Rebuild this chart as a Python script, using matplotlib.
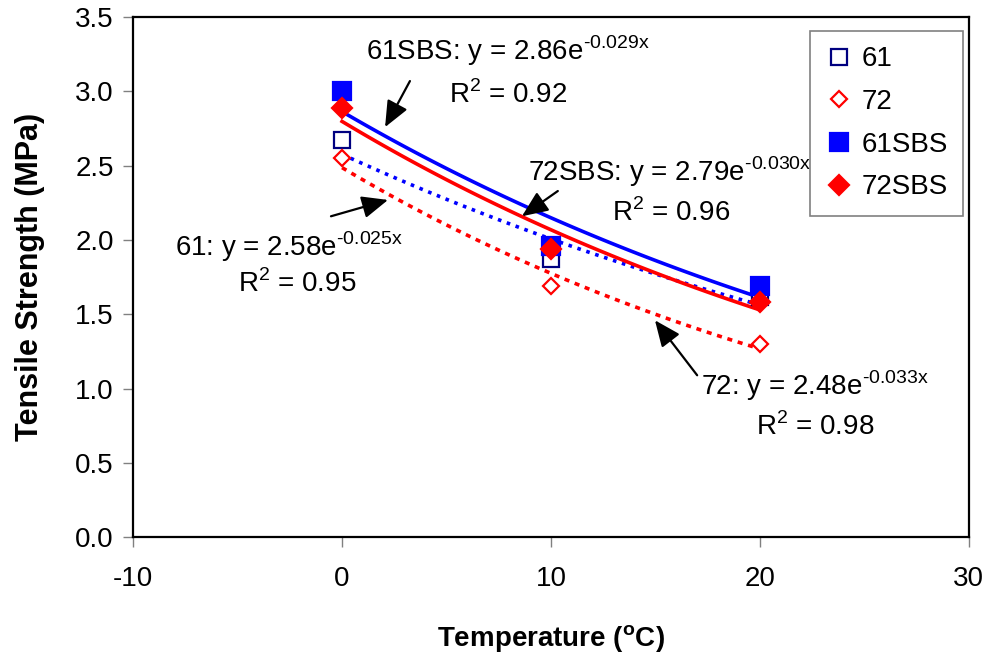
import numpy as np
import matplotlib
matplotlib.use('Agg')
import matplotlib.pyplot as plt

plt.rcParams['font.family'] = ['Liberation Sans', 'DejaVu Sans']
plt.rcParams['mathtext.fontset'] = 'custom'
plt.rcParams['mathtext.rm'] = 'Liberation Sans'
plt.rcParams['axes.unicode_minus'] = False

# data
temp = [0, 10, 20]
s61 = [2.67, 1.87, 1.62]
s72 = [2.55, 1.69, 1.30]
s61sbs = [3.00, 1.96, 1.69]
s72sbs = [2.89, 1.94, 1.58]

names = ['61', '72', '61SBS', '72SBS']
eq_text = ['61: y = 2.58e$^{\\mathregular{\u20100.025x}}$',
           '72: y = 2.48e$^{\\mathregular{\u20100.033x}}$',
           '61SBS: y = 2.86e$^{\\mathregular{\u20100.029x}}$',
           '72SBS: y = 2.79e$^{\\mathregular{\u20100.030x}}$']
r2_text = [r'R$^{\mathregular{2}}$ = 0.95',
           r'R$^{\mathregular{2}}$ = 0.98',
           r'R$^{\mathregular{2}}$ = 0.92',
           r'R$^{\mathregular{2}}$ = 0.96']

fig = plt.figure(figsize=(9.9, 6.6), dpi=100)
ax = fig.add_axes([0.1345, 0.186, 0.844, 0.788])

series = [s61, s72, s61sbs, s72sbs]
line_col = ['#0000FF', '#FF0000', '#0000FF', '#FF0000']
line_sty = [(0, (1.0, 1.6)), (0, (1.4, 1.6)), '-', '-']
mk = ['s', 'D', 's', 'D']
mk_size = [11, 8.5, 12.5, 10]
mk_face = ['white', 'white', '#0000FF', '#FF0000']
mk_edge = ['#000080', '#FF0000', '#0000FF', '#FF0000']

# exponential trendlines (least squares on log y, like Excel)
xx = np.linspace(0, 20, 100)
for i in range(4):
    b, la = np.polyfit(temp, np.log(series[i]), 1)
    ax.plot(xx, np.exp(la) * np.exp(b * xx), color=line_col[i],
            linestyle=line_sty[i], lw=2.6, zorder=2)

for i in range(4):
    ax.plot(temp, series[i], linestyle='none', marker=mk[i], ms=mk_size[i],
            mfc=mk_face[i], mec=mk_edge[i], mew=1.6, label=names[i], zorder=3)

# equation labels with arrows
eq_pos = [(-8.0, 1.89), (17.2, 0.96), (1.15, 3.21), (8.9, 2.40)]
r2_pos = [(-5.0, 1.65), (19.8, 0.69), (5.1, 2.92), (12.9, 2.13)]
arr_tip = [(2.2, 2.27), (14.98, 1.46), (2.06, 2.76), (8.61, 2.16)]
arr_tail = [(-0.53, 2.16), (17.0, 1.09), (3.25, 3.07), (10.33, 2.33)]
for i in range(4):
    ax.text(eq_pos[i][0], eq_pos[i][1], eq_text[i], fontsize=20,
            ha='left', va='baseline', zorder=5)
    ax.text(r2_pos[i][0], r2_pos[i][1], r2_text[i], fontsize=20,
            ha='left', va='baseline', zorder=5)
    ax.annotate('', xy=arr_tip[i], xytext=arr_tail[i],
                arrowprops=dict(arrowstyle='-|>,head_length=0.42,head_width=0.18',
                                mutation_scale=38, color='black', lw=1.6,
                                shrinkA=0, shrinkB=0),
                zorder=6)

ax.set_xlim(-10, 30)
ax.set_ylim(0, 3.5)
ax.set_xticks([-10, 0, 10, 20, 30])
ax.set_yticks(np.arange(0, 3.51, 0.5))
ax.set_yticklabels(['%.1f' % v for v in np.arange(0, 3.51, 0.5)])
ax.tick_params(axis='both', labelsize=20, direction='out', length=7,
               width=1, color='#808080')
ax.tick_params(axis='x', pad=14)
ax.tick_params(axis='y', pad=7)

for sp in ax.spines.values():
    sp.set_linewidth(1.6)
    sp.set_color('black')

ax.set_xlabel(r'Temperature ($^{\mathregular{o}}$C)', fontsize=20,
              fontweight='bold', labelpad=22)
ax.set_ylabel('Tensile Strength (MPa)', fontsize=22, fontweight='bold',
              labelpad=22)

leg = ax.legend(loc='upper right', bbox_to_anchor=(0.993, 0.973), fontsize=20,
                frameon=True, fancybox=False, borderpad=0.55, labelspacing=0.6,
                handletextpad=0.3, handlelength=1.0, borderaxespad=0)
leg.get_frame().set_edgecolor('#606060')
leg.get_frame().set_linewidth(1.2)

fig.savefig('out.png', dpi=100)
